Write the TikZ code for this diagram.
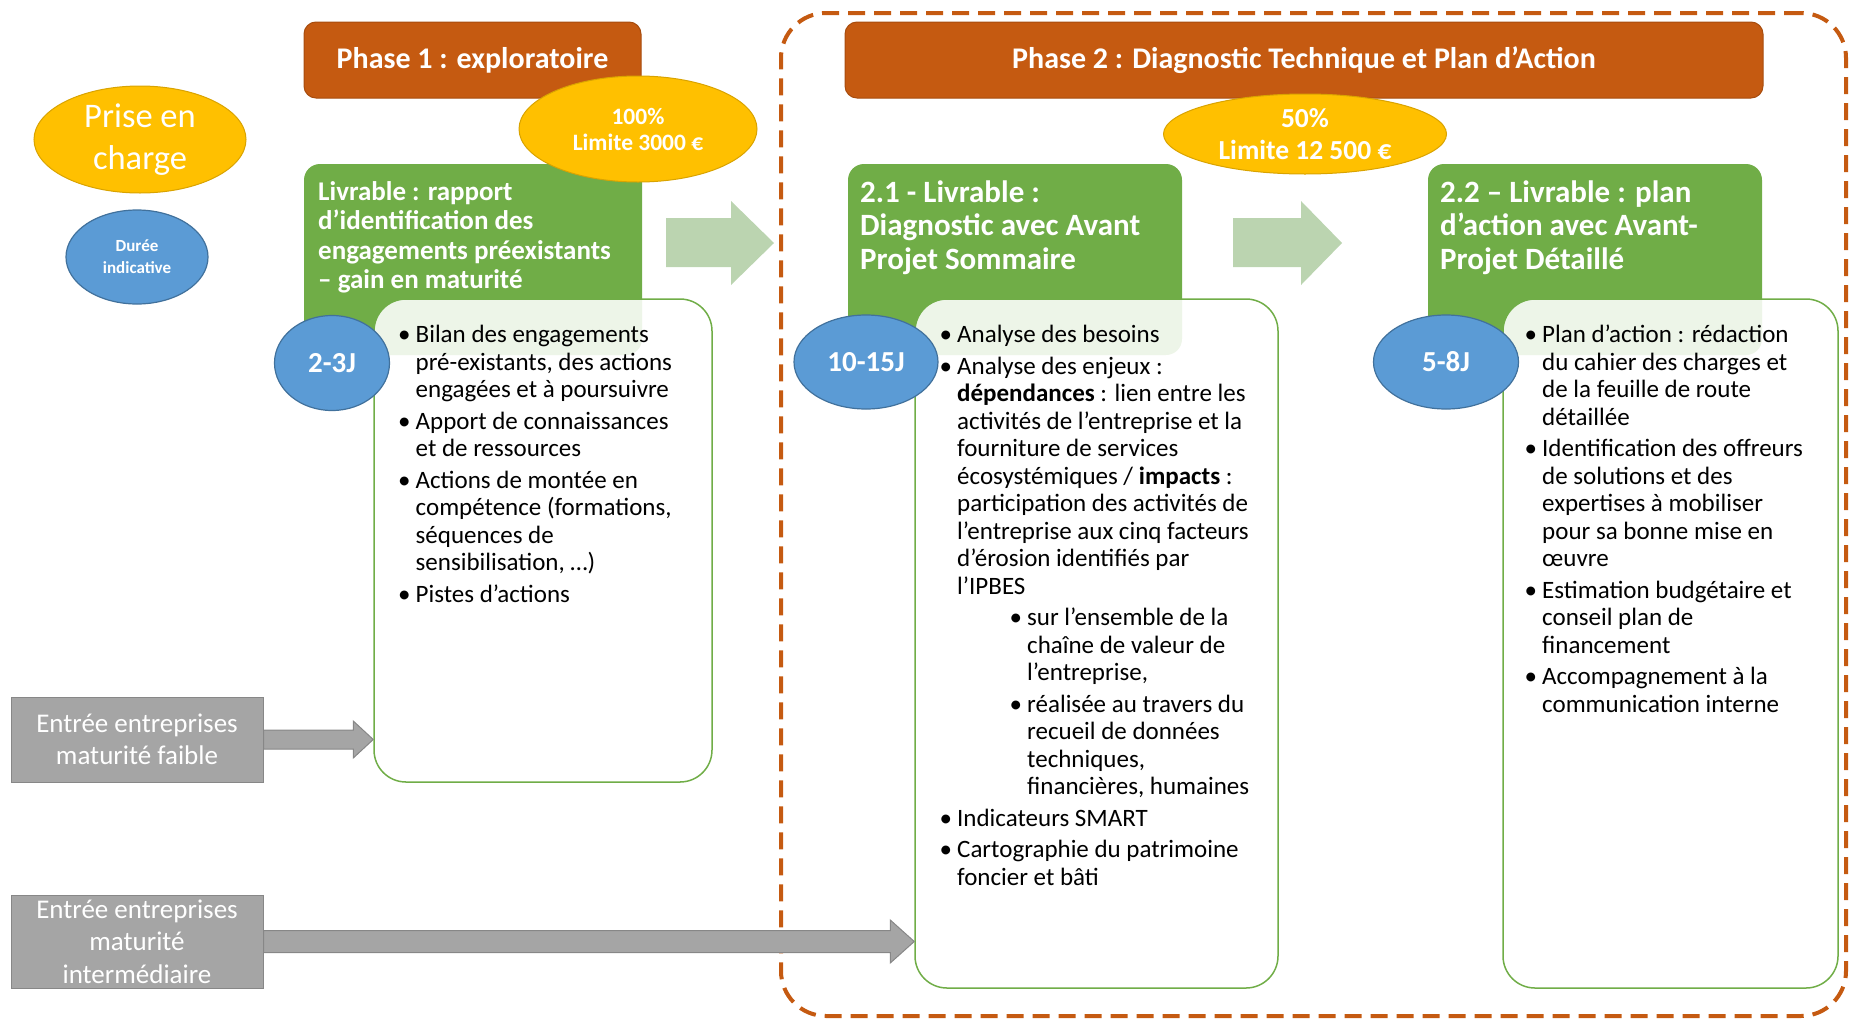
\documentclass[tikz,border=0pt]{standalone}
\usepackage{fontspec}
\setmainfont{Carlito}
\usetikzlibrary{shapes.geometric,calc}
\definecolor{phasebrown}{HTML}{C55A11}
\definecolor{gold}{HTML}{FFC000}
\definecolor{goldedge}{HTML}{D9A300}
\definecolor{bblue}{HTML}{5B9BD5}
\definecolor{bblueedge}{HTML}{41719C}
\definecolor{lgreen}{HTML}{70AD47}
\definecolor{arrowgreen}{HTML}{BBD4B0}
\definecolor{boxgray}{HTML}{A5A5A5}
\definecolor{grayedge}{HTML}{878787}
\newlength\bulw \setlength\bulw{17.5pt}
\newlength\itemgap \setlength\itemgap{4pt}
% one bullet item: lines separated by \\, continuation lines hang under the text
\newcommand\bitem[2][0pt]{{\def\\{\egroup\hbox\bgroup\hspace*{\dimexpr#1+\bulw\relax}\strut}%
  \hbox\bgroup\hspace*{#1}\makebox[\bulw][l]{\textbullet}\strut #2\egroup}\vskip\itemgap}
% stack of lines separated by \\
\newcommand\stacklines[1]{{\def\\{\egroup\hbox\bgroup\strut}\hbox\bgroup\strut #1\egroup}}
\newcommand\bodyfont{\fontsize{25}{27.5}\selectfont}
\begin{document}
\begin{tikzpicture}[x=1pt,y=-1pt,
  phasebox/.style={fill=phasebrown, draw=phasebrown!85!black, line width=1pt, rounded corners=12pt, text=white, font=\bfseries\fontsize{30}{33}\selectfont},
  goldoval/.style={ellipse, fill=gold, draw=goldedge, line width=1pt, text=white, inner sep=0pt, align=center},
  blueoval/.style={ellipse, fill=bblue, draw=bblueedge, line width=1.2pt, text=white, inner sep=0pt, align=center, font=\bfseries\fontsize{29}{32}\selectfont},
  hdrbox/.style={fill=lgreen, rounded corners=16pt, inner sep=0pt},
  contentbox/.style={draw=lgreen, line width=1.5pt, fill=white, fill opacity=0.88, rounded corners=32pt, inner sep=0pt},
  hdrtxt/.style={anchor=north west, inner sep=0pt, text=white},
  bodytxt/.style={anchor=north west, inner sep=0pt},
  graybox/.style={fill=boxgray, draw=grayedge, line width=1pt, text=white, align=center, inner sep=0pt, font=\fontsize{27}{32.5}\selectfont},
  grayarr/.style={fill=boxgray, draw=grayedge, line width=1pt},
  greenarr/.style={fill=arrowgreen},
  dashframe/.style={draw=phasebrown, line width=4pt, dash pattern=on 17pt off 9pt, rounded corners=45pt, inner sep=0pt}
]
\useasboundingbox (0,0) rectangle (1849,1020);

% phase 2 frame
\node[dashframe, minimum width=1065pt, minimum height=1003pt] (frame) at (1313.5,514.5) {};

% phase titles
\node[phasebox, minimum width=337pt, minimum height=76pt] (p1) at (472.5,60) {Phase 1 : exploratoire};
\node[phasebox, minimum width=918pt, minimum height=76pt] (p2) at (1304,60) {Phase 2 : Diagnostic Technique et Plan d’Action};

% legend
\node[goldoval, minimum width=212pt, minimum height=107pt, font=\fontsize{34.5}{42}\selectfont] (prise) at (140,139.5) {Prise en\\charge};
\node[blueoval, minimum width=142pt, minimum height=94pt, font=\bfseries\fontsize{17}{22}\selectfont] (duree) at (137,257) {Durée\\indicative};

% green header boxes
\node[hdrbox, minimum width=338pt, minimum height=191pt] (h1) at (473,259.5) {};
\node[hdrbox, minimum width=334pt, minimum height=191pt] (h21) at (1015,259.5) {};
\node[hdrbox, minimum width=334pt, minimum height=191pt] (h22) at (1595,259.5) {};

\node[hdrtxt] (ht1) at (318,179.35) {\vtop{\fontsize{27}{29.5}\selectfont\bfseries
  \stacklines{Livrable : rapport\\d’identification des\\engagements préexistants\\– gain en maturité}}};
\node[hdrtxt] (ht21) at (860,178.55) {\vtop{\fontsize{31}{33.5}\selectfont\bfseries
  \stacklines{2.1 - Livrable :\\Diagnostic avec Avant\\Projet Sommaire}}};
\node[hdrtxt] (ht22) at (1440,178.55) {\vtop{\fontsize{31}{33.5}\selectfont\bfseries
  \stacklines{2.2 – Livrable : plan\\d’action avec Avant-\\Projet Détaillé}}};

% funding ovals
\node[goldoval, minimum width=238pt, minimum height=106pt, font=\bfseries\fontsize{23.5}{26}\selectfont] (f1) at (638,129) {100\%\\Limite 3000 €};
\node[goldoval, minimum width=283pt, minimum height=80pt, font=\bfseries\fontsize{27.5}{32}\selectfont] (f2) at (1305,134) {50\%\\Limite 12 500 €};

% content boxes
\node[contentbox, minimum width=338pt, minimum height=483pt] (c1) at (543,540.5) {};
\node[contentbox, minimum width=363pt, minimum height=689pt] (c21) at (1096.5,643.5) {};
\node[contentbox, minimum width=335pt, minimum height=689pt] (c22) at (1670.5,643.5) {};

\node[bodytxt] (t1) at (398,323.25) {\vtop{\bodyfont
\bitem{Bilan des engagements\\pré-existants, des actions\\engagées et à poursuivre}
\bitem{Apport de connaissances\\et de ressources}
\bitem{Actions de montée en\\compétence (formations,\\séquences de\\sensibilisation, …)}
\bitem{Pistes d’actions}}};

\node[bodytxt] (t21) at (939.5,323.25) {\vtop{\bodyfont
\bitem{Analyse des besoins}
\bitem{Analyse des enjeux :\\\textbf{dépendances} : lien entre les\\activités de l’entreprise et la\\fourniture de services\\écosystémiques / \textbf{impacts} :\\participation des activités de\\l’entreprise aux cinq facteurs\\d’érosion identifiés par\\l’IPBES}
\bitem[70pt]{sur l’ensemble de la\\chaîne de valeur de\\l’entreprise,}
\bitem[70pt]{réalisée au travers du\\recueil de données\\techniques,\\financières, humaines}
\bitem{Indicateurs SMART}
\bitem{Cartographie du patrimoine\\foncier et bâti}}};

\node[bodytxt] (t22) at (1524.5,323.25) {\vtop{\bodyfont
\bitem{Plan d’action : rédaction\\du cahier des charges et\\de la feuille de route\\détaillée}
\bitem{Identification des offreurs\\de solutions et des\\expertises à mobiliser\\pour sa bonne mise en\\œuvre}
\bitem{Estimation budgétaire et\\conseil plan de\\financement}
\bitem{Accompagnement à la\\communication interne}}};

% duration ovals
\node[blueoval, minimum width=115pt, minimum height=95pt] (d1) at (332,363) {2-3J};
\node[blueoval, minimum width=144pt, minimum height=94pt] (d21) at (866,362) {10-15J};
\node[blueoval, minimum width=145pt, minimum height=94pt] (d22) at (1446,362) {5-8J};

% flow arrows between deliverables
\fill[greenarr] (666,218) -- (731,218) -- (731,201) -- (774,243) -- (731,285) -- (731,267) -- (666,267) -- cycle;
\fill[greenarr] (1233,218) -- (1301,218) -- (1301,201) -- (1342,243) -- (1301,285) -- (1301,267) -- (1233,267) -- cycle;

% entry boxes
\node[graybox, minimum width=252pt, minimum height=85pt] (g1) at (137,739.5) {Entrée entreprises\\maturité faible};
\node[graybox, minimum width=252pt, minimum height=93pt] (g2) at (137,941.5) {Entrée entreprises\\maturité\\intermédiaire};

\path (g1.east) coordinate (g1e);
\path (c1.west |- g1e) coordinate (g1t);
\draw[grayarr] ($(g1e)+(0,-9.5)$) -- ($(g1t)+(-20,-9.5)$) -- ($(g1t)+(-20,-18.5)$) -- (g1t) -- ($(g1t)+(-20,18.5)$) -- ($(g1t)+(-20,9.5)$) -- ($(g1e)+(0,9.5)$) -- cycle;

\path (g2.east) coordinate (g2e);
\path (c21.west |- g2e) coordinate (g2t);
\draw[grayarr] ($(g2e)+(0,-11)$) -- ($(g2t)+(-24,-11)$) -- ($(g2t)+(-24,-21.5)$) -- (g2t) -- ($(g2t)+(-24,21.5)$) -- ($(g2t)+(-24,11)$) -- ($(g2e)+(0,11)$) -- cycle;
\end{tikzpicture}
\end{document}
